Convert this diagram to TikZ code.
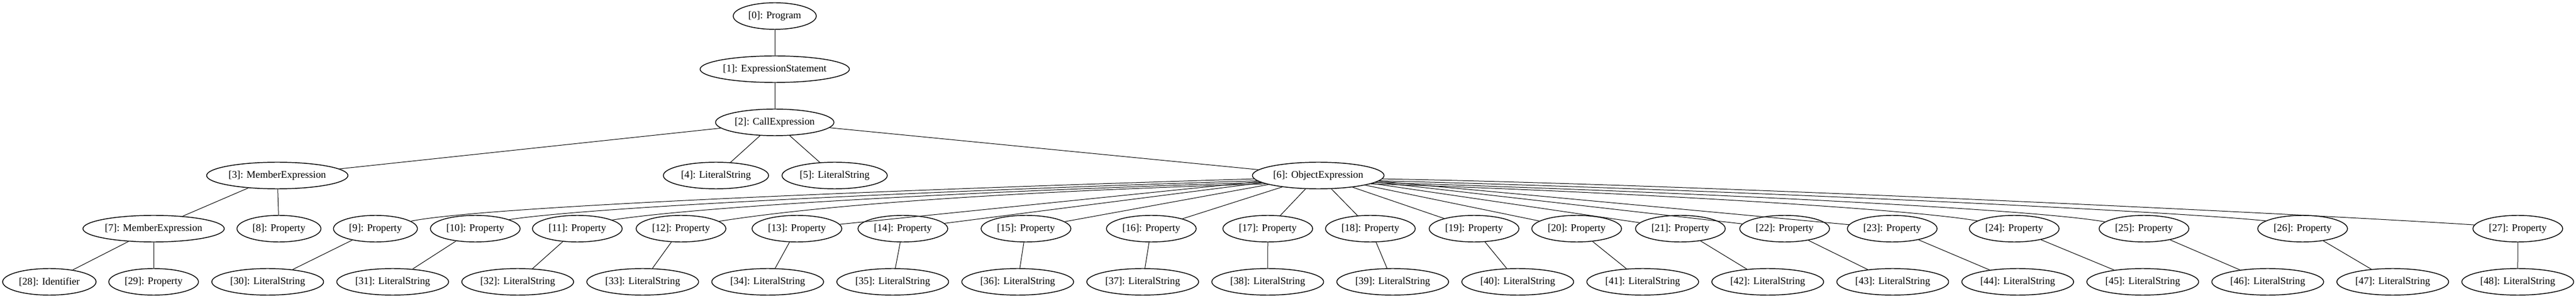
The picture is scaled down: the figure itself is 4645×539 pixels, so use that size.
\documentclass[tikz,border=0pt]{standalone}
\usepackage{fontspec}
\setmainfont{Liberation Serif}
\usetikzlibrary{shapes.geometric}

\begin{document}
\begin{tikzpicture}[x=0.75pt,y=0.75pt,line width=0.75pt,
  astnode/.style={ellipse,draw,line width=1.1pt,minimum height=36pt,minimum width=#1,inner sep=0pt,font=\fontsize{13.7}{16}\selectfont},
  astnode/.default=121.3pt]
\useasboundingbox (0,0) rectangle (4645,539);
\node (program) at (1397,510) [astnode=112.3pt] {[0]: Program};
\node (exprstmt) at (1397,414) [astnode=201.9pt] {[1]: ExpressionStatement};
\node (call) at (1397,318) [astnode=160.1pt] {[2]: CallExpression};
\node (member3) at (500,222) [astnode=191.1pt] {[3]: MemberExpression};
\node (lit4) at (1291,222) [astnode=142.3pt] {[4]: LiteralString};
\node (lit5) at (1505,222) [astnode=142.3pt] {[5]: LiteralString};
\node (object) at (2377,222) [astnode=178pt] {[6]: ObjectExpression};
\node (member7) at (277,126) [astnode=191.1pt] {[7]: MemberExpression};
\node (prop8) at (503,126) [astnode=113.5pt] {[8]: Property};
\node (prop9) at (677,126) [astnode=113.5pt] {[9]: Property};
\node (prop10) at (857,126) [astnode] {[10]: Property};
\node (prop11) at (1041,126) [astnode] {[11]: Property};
\node (prop12) at (1228,126) [astnode] {[12]: Property};
\node (prop13) at (1437,126) [astnode] {[13]: Property};
\node (prop14) at (1628,126) [astnode] {[14]: Property};
\node (prop15) at (1850,126) [astnode] {[15]: Property};
\node (prop16) at (2076,126) [astnode] {[16]: Property};
\node (prop17) at (2286,126) [astnode] {[17]: Property};
\node (prop18) at (2471,126) [astnode] {[18]: Property};
\node (prop19) at (2658,126) [astnode] {[19]: Property};
\node (prop20) at (2843,126) [astnode] {[20]: Property};
\node (prop21) at (3030,126) [astnode] {[21]: Property};
\node (prop22) at (3218,126) [astnode] {[22]: Property};
\node (prop23) at (3412,126) [astnode] {[23]: Property};
\node (prop24) at (3632,126) [astnode] {[24]: Property};
\node (prop25) at (3866,126) [astnode] {[25]: Property};
\node (prop26) at (4152,126) [astnode] {[26]: Property};
\node (prop27) at (4540,126) [astnode] {[27]: Property};
\node (ident28) at (89,30) [astnode=126.3pt] {[28]: Identifier};
\node (prop29) at (277,30) [astnode] {[29]: Property};
\node (lit30) at (482.7,30) [astnode=151.2pt] {[30]: LiteralString};
\node (lit31) at (708.1,30) [astnode=151.2pt] {[31]: LiteralString};
\node (lit32) at (933.5,30) [astnode=151.2pt] {[32]: LiteralString};
\node (lit33) at (1158.9,30) [astnode=151.2pt] {[33]: LiteralString};
\node (lit34) at (1384.3,30) [astnode=151.2pt] {[34]: LiteralString};
\node (lit35) at (1609.7,30) [astnode=151.2pt] {[35]: LiteralString};
\node (lit36) at (1835.1,30) [astnode=151.2pt] {[36]: LiteralString};
\node (lit37) at (2060.5,30) [astnode=151.2pt] {[37]: LiteralString};
\node (lit38) at (2285.9,30) [astnode=151.2pt] {[38]: LiteralString};
\node (lit39) at (2511.3,30) [astnode=151.2pt] {[39]: LiteralString};
\node (lit40) at (2736.7,30) [astnode=151.2pt] {[40]: LiteralString};
\node (lit41) at (2962.1,30) [astnode=151.2pt] {[41]: LiteralString};
\node (lit42) at (3187.5,30) [astnode=151.2pt] {[42]: LiteralString};
\node (lit43) at (3412.9,30) [astnode=151.2pt] {[43]: LiteralString};
\node (lit44) at (3638.3,30) [astnode=151.2pt] {[44]: LiteralString};
\node (lit45) at (3863.7,30) [astnode=151.2pt] {[45]: LiteralString};
\node (lit46) at (4089.1,30) [astnode=151.2pt] {[46]: LiteralString};
\node (lit47) at (4314.5,30) [astnode=151.2pt] {[47]: LiteralString};
\node (lit48) at (4539.9,30) [astnode=151.2pt] {[48]: LiteralString};
\draw (program) -- (exprstmt);
\draw (exprstmt) -- (call);
\draw (call) -- (member3);
\draw (call) -- (lit4);
\draw (call) -- (lit5);
\draw (call) -- (object);
\draw (member3) -- (member7);
\draw (member3) -- (prop8);
\draw (member7) -- (ident28);
\draw (member7) -- (prop29);
\draw (object.183) .. controls (1700,199) and (880,168) .. (prop9.12);
\draw (object.185) .. controls (1719,196) and (1068,166) .. (prop10.15);
\draw (object.187) .. controls (1726,193) and (1252,165) .. (prop11.14);
\draw (object.189) .. controls (1734,190) and (1445,163) .. (prop12.11);
\draw (object) -- (prop13);
\draw (object) -- (prop14);
\draw (object) -- (prop15);
\draw (object) -- (prop16);
\draw (object) -- (prop17);
\draw (object) -- (prop18);
\draw (object) -- (prop19);
\draw (object) -- (prop20);
\draw (object) -- (prop21);
\draw (object) -- (prop22);
\draw (object) -- (prop23);
\draw (object.351) .. controls (2884,194) and (3437,163) .. (prop24.168);
\draw (object.353) .. controls (2937,196) and (3651,164) .. (prop25.170);
\draw (object.355) .. controls (3039,199) and (3900,159) .. (prop26.168);
\draw (object.357) .. controls (3100,205) and (4200,150) .. (prop27.175);
\draw (prop9) -- (lit30);
\draw (prop10) -- (lit31);
\draw (prop11) -- (lit32);
\draw (prop12) -- (lit33);
\draw (prop13) -- (lit34);
\draw (prop14) -- (lit35);
\draw (prop15) -- (lit36);
\draw (prop16) -- (lit37);
\draw (prop17) -- (lit38);
\draw (prop18) -- (lit39);
\draw (prop19) -- (lit40);
\draw (prop20) -- (lit41);
\draw (prop21) -- (lit42);
\draw (prop22) -- (lit43);
\draw (prop23) -- (lit44);
\draw (prop24) -- (lit45);
\draw (prop25) -- (lit46);
\draw (prop26) -- (lit47);
\draw (prop27) -- (lit48);
\end{tikzpicture}
\end{document}
